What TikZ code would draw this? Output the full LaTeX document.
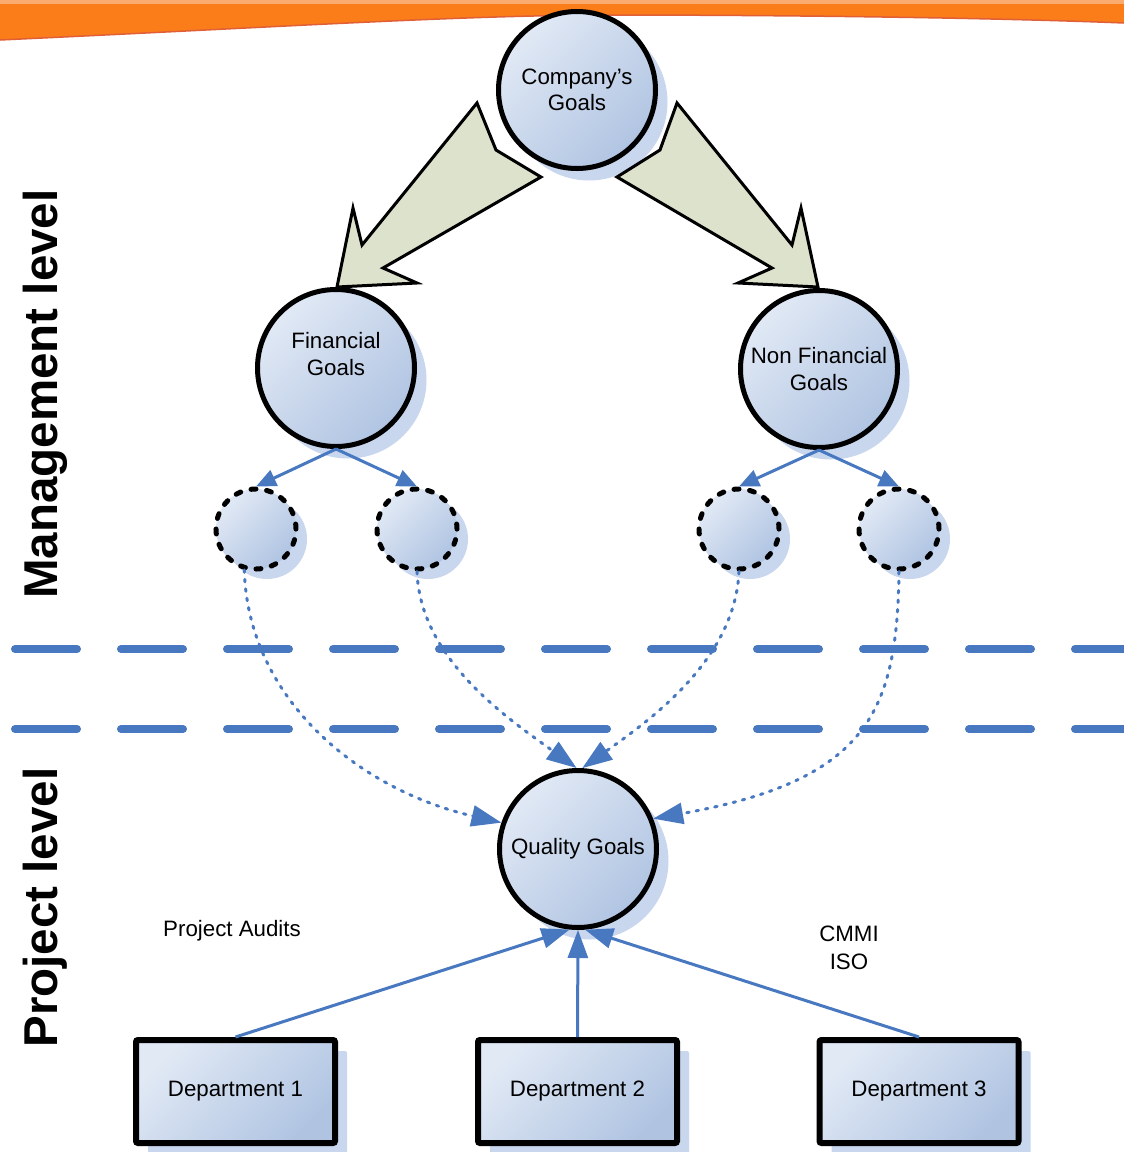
\documentclass[tikz,border=0pt]{standalone}
\usepackage{fontspec}
\setmainfont{Liberation Sans}
\usetikzlibrary{arrows.meta,shadows}
\definecolor{lightfill}{RGB}{225,233,245}
\definecolor{darkfill}{RGB}{176,196,226}
\definecolor{shadowc}{RGB}{200,214,238}
\definecolor{lineblue}{RGB}{72,120,192}
\definecolor{arrowfill}{RGB}{221,226,204}
\definecolor{orangeband}{RGB}{250,125,25}
\definecolor{orangelight}{RGB}{250,172,112}
\definecolor{orangeedge}{RGB}{225,95,55}
\newcommand\gfont{\fontsize{22.3}{26.5}\selectfont}
\begin{document}
\begin{tikzpicture}[x=1pt,y=-1pt,
  goal/.style={circle, draw=black, line width=5pt, minimum size=157pt, inner sep=0pt,
    top color=lightfill, bottom color=darkfill, shading angle=45,
    drop shadow={shadow xshift=12pt, shadow yshift=-12pt, fill=shadowc, opacity=1},
    align=center, font=\gfont},
  gtext/.style={align=center, font=\gfont, inner sep=0pt},
  smallgoal/.style={circle, draw=black, line width=5pt, dash pattern=on 5pt off 10.7pt, line cap=round,
    minimum size=80pt, inner sep=0pt,
    top color=lightfill, bottom color=darkfill, shading angle=45,
    drop shadow={shadow xshift=11pt, shadow yshift=-10pt, fill=shadowc, opacity=1}},
  dept/.style={rectangle, draw=black, line width=6pt, rounded corners=2pt,
    minimum width=199pt, minimum height=103pt, inner sep=0pt,
    top color=lightfill, bottom color=darkfill, shading angle=45,
    drop shadow={shadow xshift=12pt, shadow yshift=-11pt, fill=shadowc, opacity=1},
    font=\gfont},
  lbl/.style={font=\gfont, align=center, inner sep=0pt},
  side/.style={font=\bfseries\fontsize{47.5}{47.5}\selectfont, rotate=90, anchor=base, inner sep=0pt},
  bigarrow/.style={fill=arrowfill, draw=black, line width=3pt, line join=miter},
  bluearrow/.style={draw=lineblue, line width=3pt, -{Triangle[length=20pt,width=17pt]}, color=lineblue},
  deptarrow/.style={draw=lineblue, line width=3pt, -{Triangle[length=28pt,width=20pt]}, color=lineblue},
  dotarrow/.style={draw=lineblue, line width=3pt, dash pattern=on 2.5pt off 7pt, line cap=round,
    -{Triangle[length=30pt,width=21pt]}, color=lineblue},
  sepline/.style={draw=lineblue, line width=8pt, dash pattern=on 62pt off 44pt, line cap=round}
]
\useasboundingbox (0,0) rectangle (1124,1152);
\fill[white] (0,0) rectangle (1124,1152);

% orange band
\fill[orangeband] (0,0) -- (1124,0) -- (1124,23) .. controls (1000,18) and (800,15) .. (600,15)
  .. controls (450,16) and (300,26) .. (0,40) -- cycle;
\draw[orangeedge, line width=1.5pt] (1124,23) .. controls (1000,18) and (800,15) .. (600,15)
  .. controls (450,16) and (300,26) .. (0,40);
\fill[orangelight] (0,0) rectangle (1124,3.5);

% separators
\coordinate (sepL1) at (15,649); \coordinate (sepR1) at (1124,649);
\coordinate (sepL2) at (15,729); \coordinate (sepR2) at (1124,729);
\draw[sepline] (sepL1) -- (sepR1);
\draw[sepline] (sepL2) -- (sepR2);

% side labels
\node[side] (mgmt) at (57,394) {Management level};
\node[side] (proj) at (57,907.5) {Project level};

% goal nodes
\node[goal] (comp) at (577,90) {Company’s\\Goals};
\node[goal] (fin) at (336,368) {};
\node[gtext] (fintext) at (336,354) {Financial\\Goals};
\node[goal] (nonfin) at (819,369) {Non Financial\\Goals};
\node[goal] (qual) at (578,849) {Quality Goals};

% small dashed goals
\node[smallgoal] (s1) at (256,529) {};
\node[smallgoal] (s2) at (417,529) {};
\node[smallgoal] (s3) at (739,529) {};
\node[smallgoal] (s4) at (899,529) {};

% departments
\node[dept] (d1) at (235.5,1091.5) {Department 1};
\node[dept] (d2) at (577.5,1091.5) {Department 2};
\node[dept] (d3) at (919,1091.5) {Department 3};

% free labels
\node[lbl] (audits) at (232,931) {Project Audits};
\node[lbl, font=\fontsize{22.3}{28}\selectfont] (cmmi) at (849,948) {CMMI\\ISO};

% big block arrows
\filldraw[bigarrow] (477,103) -- (496,150) -- (541,177) -- (383,268) -- (417,283) -- (337,287)
  -- (353,208) -- (362,245) -- cycle;
\filldraw[bigarrow] (677,103) -- (660,150) -- (617,177) -- (772,268) -- (738,283) -- (818,287)
  -- (801,208) -- (792,245) -- cycle;

% blue arrows to small goals
\draw[bluearrow] (fin.south) -- (s1.north);
\draw[bluearrow] (fin.south) -- (s2.north);
\draw[bluearrow] (nonfin.south) -- (s3.north);
\draw[bluearrow] (nonfin.south) -- (s4.north);

% dotted curves to quality goals
\draw[dotarrow] (s1.254) .. controls (248,700) and (360,790) .. (qual.161);
\draw[dotarrow] (s2.south) .. controls (420,660) and (510,720) .. (qual.91);
\draw[dotarrow] (s3.south) .. controls (735,660) and (650,720) .. (qual.87);
\draw[dotarrow] (s4.south) .. controls (897,710) and (870,780) .. (qual.22);

% department arrows
\draw[deptarrow] (d1.north) -- (qual.264);
\draw[deptarrow] (d2.north) -- (qual.south);
\draw[deptarrow] (d3.north) -- (qual.275);
\end{tikzpicture}
\end{document}
